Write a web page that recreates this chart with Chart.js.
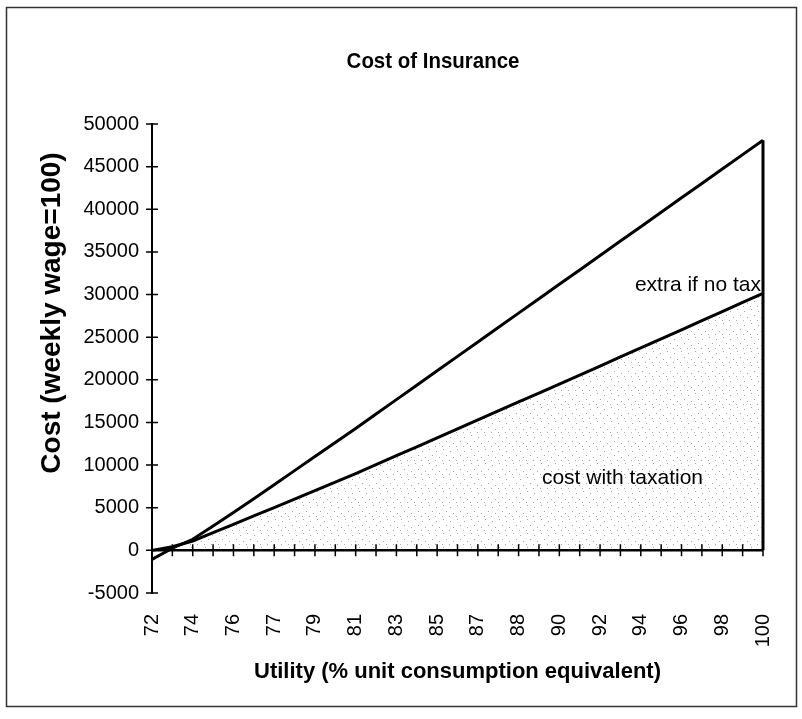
<!DOCTYPE html>
<html lang="en">
<head>
    <meta charset="UTF-8">
    <title>Cost of Insurance</title>
    <script src="https://cdn.jsdelivr.net/npm/chart.js@4"></script>
    <style>
        html, body { margin: 0; padding: 0; background: #fff; }
        #wrap { position: relative; width: 802px; height: 719px; }
    </style>
</head>
<body>
    <div id="wrap"><canvas id="costChart" width="802" height="719"></canvas></div>

    <script>
        // Utility (% unit consumption equivalent), one entry per category; every other one is labelled
        const utility = [72, 73, 74, 75, 76, 76, 77, 78, 79, 80, 81, 82, 83, 84, 85, 86,
                         87, 87, 88, 89, 90, 91, 92, 93, 94, 95, 96, 97, 98, 99, 100];

        // Cost with taxation (lower, shaded)
        const costWithTax = [0, 420, 1100, 2080, 3060, 4040, 5020, 6000, 7000, 8000, 9000,
                             10050, 11100, 12150, 13200, 14250, 15300, 16350, 17400, 18450, 19500,
                             20560, 21620, 22680, 23740, 24800, 25870, 26940, 28010, 29080, 30150];

        // Cost if no tax (upper line = cost with taxation + extra if no tax)
        const costNoTax = [-1060, 250, 1300, 2850, 4450, 6050, 7700, 9350, 11000, 12650, 14300,
                           15990, 17680, 19370, 21060, 22750, 24440, 26130, 27820, 29510, 31200,
                           32890, 34580, 36270, 37960, 39650, 41340, 43030, 44720, 46410, 48100];

        const yTicks = { min: -5000, max: 50000, step: 5000 };

        const FONT = "'Liberation Sans', Arial, sans-serif";
        const canvas = document.getElementById('costChart');
        const ctx = canvas.getContext('2d');

        // sparse grey stipple like the printed area fill
        function stipple() {
            const c = document.createElement('canvas');
            c.width = 14; c.height = 14;
            const g = c.getContext('2d');
            g.fillStyle = '#a8a8a8';
            [[2, 3], [9, 1], [5, 9], [12, 7], [1, 12], [8, 12]].forEach(([px, py]) => g.fillRect(px, py, 1, 1));
            return ctx.createPattern(c, 'repeat');
        }

        const excelAxes = {
            id: 'excelAxes',
            beforeDraw(chart) {
                const c = chart.ctx;
                c.save();
                c.strokeStyle = '#333';
                c.lineWidth = 1.5;
                c.strokeRect(6.5, 7.5, 790, 699);
                c.restore();
            },
            afterDatasetsDraw(chart) {
                const { ctx: c, scales: { x, y } } = chart;
                const y0 = y.getPixelForValue(0);
                const last = utility.length - 1;
                const xe = x.getPixelForValue(last);
                c.save();
                c.strokeStyle = '#000';
                // category axis crosses at zero
                c.lineWidth = 2.5;
                c.beginPath();
                c.moveTo(x.left, y0);
                c.lineTo(xe, y0);
                c.stroke();
                // right edge of the area
                c.lineWidth = 3;
                c.beginPath();
                c.moveTo(xe, y.getPixelForValue(costNoTax[last]));
                c.lineTo(xe, y0);
                c.stroke();
                // cross tick marks
                c.lineWidth = 1.5;
                c.beginPath();
                utility.forEach((_, i) => {
                    const px = x.getPixelForValue(i);
                    c.moveTo(px, y0 - 6);
                    c.lineTo(px, y0 + 6);
                });
                y.ticks.forEach((_, i) => {
                    const py = y.getPixelForTick(i);
                    c.moveTo(x.left - 6, py);
                    c.lineTo(x.left + 6, py);
                });
                c.stroke();

                // series labels
                c.fillStyle = '#000';
                c.font = `21px ${FONT}`;
                c.textAlign = 'right';
                c.textBaseline = 'alphabetic';
                c.fillText('extra if no tax', xe - 2, y.getPixelForValue(costWithTax[last]) - 2);
                c.textAlign = 'center';
                c.textBaseline = 'middle';
                c.fillText('cost with taxation', x.getPixelForValue(23.1), y.getPixelForValue(8500));
                c.restore();
            },
            afterDraw(chart) {
                const c = chart.ctx;
                c.save();
                c.fillStyle = '#000';
                c.textAlign = 'center';
                c.textBaseline = 'middle';
                // chart title, a little narrow like the original
                c.save();
                c.font = `bold 22px ${FONT}`;
                c.translate(433, 62);
                c.scale(0.93, 1);
                c.fillText('Cost of Insurance', 0, 0);
                c.restore();
                // value axis title
                c.save();
                c.font = `bold 28px ${FONT}`;
                c.translate(52, 313);
                c.rotate(-Math.PI / 2);
                c.fillText('Cost (weekly wage=100)', 0, 0);
                c.restore();
                c.restore();
            }
        };

        new Chart(ctx, {
            type: 'line',
            data: {
                labels: utility.map(String),
                datasets: [{
                    label: 'cost with taxation',
                    data: costWithTax,
                    borderColor: '#000',
                    borderWidth: 3,
                    backgroundColor: stipple(),
                    fill: 'origin',
                    pointRadius: 0,
                    tension: 0
                }, {
                    label: 'extra if no tax',
                    data: costNoTax,
                    borderColor: '#000',
                    borderWidth: 3,
                    fill: false,
                    pointRadius: 0,
                    tension: 0
                }]
            },
            options: {
                responsive: false,
                animation: false,
                layout: { padding: { top: 124, right: 39, bottom: 0, left: 0 } },
                plugins: {
                    legend: { display: false },
                    tooltip: { enabled: false },
                    title: { display: false }
                },
                scales: {
                    x: {
                        offset: false,
                        grid: { display: false, drawTicks: false },
                        border: { display: false },
                        ticks: {
                            autoSkip: false,
                            minRotation: 90,
                            maxRotation: 90,
                            padding: 21,
                            color: '#000',
                            font: { family: FONT, size: 20 },
                            callback: (v, i) => (i % 2 === 0 ? String(utility[i]) : '')
                        },
                        title: {
                            display: true,
                            text: 'Utility (% unit consumption equivalent)',
                            color: '#000',
                            font: { family: FONT, size: 22, weight: 'bold' },
                            padding: { top: 0, bottom: 34 }
                        },
                        afterFit: (scale) => {
                            scale.height = 126;
                            scale.paddingRight = 0; // let layout padding decide the right edge
                        }
                    },
                    y: {
                        min: yTicks.min,
                        max: yTicks.max,
                        grid: { display: false, drawTicks: false },
                        border: { display: true, color: '#000', width: 2 },
                        ticks: {
                            stepSize: yTicks.step,
                            padding: 13,
                            color: '#000',
                            font: { family: FONT, size: 20 },
                            callback: (v) => String(v)
                        },
                        title: { display: false },
                        afterFit: (scale) => { scale.width = 152; }
                    }
                }
            },
            plugins: [excelAxes]
        });
    </script>
</body>
</html>
